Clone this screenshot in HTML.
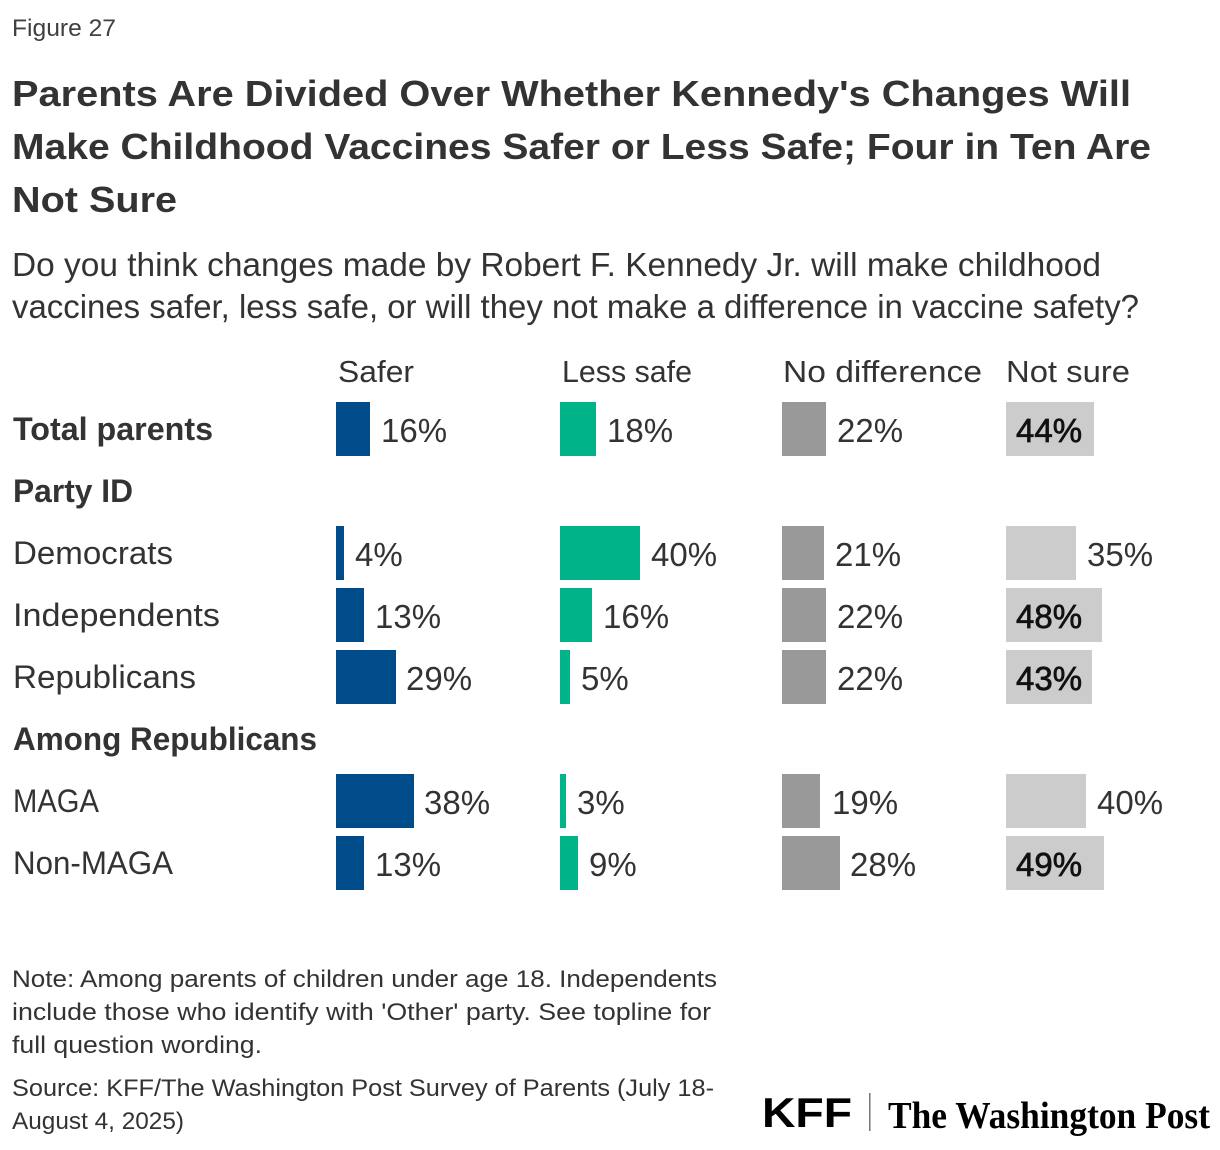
<!DOCTYPE html>
<html>
<head>
<meta charset="utf-8">
<style>
  html, body { margin: 0; padding: 0; background: #ffffff; }
  body { width: 1220px; height: 1150px; overflow: hidden; }
  svg { display: block; }
  text { font-family: "Liberation Sans", "DejaVu Sans", sans-serif; fill: #333333; }
  .val { font-size: 33px; }
  .inval { font-size: 33px; fill: #111111; stroke: #111111; stroke-width: 0.7px; }
</style>
</head>
<body>
<svg width="1220" height="1150" viewBox="0 0 1220 1150" xmlns="http://www.w3.org/2000/svg">
  <rect x="0" y="0" width="1220" height="1150" fill="#ffffff"/>

  <!-- Figure label -->
  <text x="12" y="36" font-size="24" textLength="104" lengthAdjust="spacingAndGlyphs" style="fill:#404040">Figure 27</text>

  <!-- Title -->
  <text x="12" y="106" font-size="36" font-weight="bold" textLength="1119" lengthAdjust="spacingAndGlyphs">Parents Are Divided Over Whether Kennedy's Changes Will</text>
  <text x="12" y="159" font-size="36" font-weight="bold" textLength="1139" lengthAdjust="spacingAndGlyphs">Make Childhood Vaccines Safer or Less Safe; Four in Ten Are</text>
  <text x="12" y="212" font-size="36" font-weight="bold" textLength="165" lengthAdjust="spacingAndGlyphs">Not Sure</text>

  <!-- Subtitle -->
  <text x="12" y="276" font-size="33" textLength="1089" lengthAdjust="spacingAndGlyphs">Do you think changes made by Robert F. Kennedy Jr. will make childhood</text>
  <text x="12" y="318" font-size="33" textLength="1127" lengthAdjust="spacingAndGlyphs">vaccines safer, less safe, or will they not make a difference in vaccine safety?</text>

  <!-- Column headers -->
  <text x="338" y="382" font-size="31" textLength="76" lengthAdjust="spacingAndGlyphs">Safer</text>
  <text x="562" y="382" font-size="31" textLength="130" lengthAdjust="spacingAndGlyphs">Less safe</text>
  <text x="783" y="382" font-size="31" textLength="199" lengthAdjust="spacingAndGlyphs">No difference</text>
  <text x="1006" y="382" font-size="31" textLength="124" lengthAdjust="spacingAndGlyphs">Not sure</text>

  <!-- Row labels -->
  <text x="13" y="440" font-size="32" font-weight="bold" textLength="200" lengthAdjust="spacingAndGlyphs">Total parents</text>
  <text x="13" y="502" font-size="32" font-weight="bold" textLength="120" lengthAdjust="spacingAndGlyphs">Party ID</text>
  <text x="13" y="564" font-size="32" textLength="160" lengthAdjust="spacingAndGlyphs">Democrats</text>
  <text x="13" y="626" font-size="32" textLength="207" lengthAdjust="spacingAndGlyphs">Independents</text>
  <text x="13" y="688" font-size="32" textLength="183" lengthAdjust="spacingAndGlyphs">Republicans</text>
  <text x="13" y="750" font-size="32" font-weight="bold" textLength="304" lengthAdjust="spacingAndGlyphs">Among Republicans</text>
  <text x="13" y="812" font-size="32" textLength="86" lengthAdjust="spacingAndGlyphs">MAGA</text>
  <text x="13" y="874" font-size="32" textLength="160" lengthAdjust="spacingAndGlyphs">Non-MAGA</text>

  <!-- Safer bars -->
  <g fill="#004b8a">
    <rect x="336" y="402" width="34" height="54"/>
    <rect x="336" y="526" width="8" height="54"/>
    <rect x="336" y="588" width="28" height="54"/>
    <rect x="336" y="650" width="60" height="54"/>
    <rect x="336" y="774" width="78" height="54"/>
    <rect x="336" y="836" width="28" height="54"/>
  </g>
  <text class="val" x="381" y="442">16%</text>
  <text class="val" x="355" y="566">4%</text>
  <text class="val" x="375" y="628">13%</text>
  <text class="val" x="406" y="690">29%</text>
  <text class="val" x="424" y="814">38%</text>
  <text class="val" x="375" y="876">13%</text>

  <!-- Less safe bars -->
  <g fill="#00b388">
    <rect x="560" y="402" width="36" height="54"/>
    <rect x="560" y="526" width="80" height="54"/>
    <rect x="560" y="588" width="32" height="54"/>
    <rect x="560" y="650" width="10" height="54"/>
    <rect x="560" y="774" width="6" height="54"/>
    <rect x="560" y="836" width="18" height="54"/>
  </g>
  <text class="val" x="607" y="442">18%</text>
  <text class="val" x="651" y="566">40%</text>
  <text class="val" x="603" y="628">16%</text>
  <text class="val" x="581" y="690">5%</text>
  <text class="val" x="577" y="814">3%</text>
  <text class="val" x="589" y="876">9%</text>

  <!-- No difference bars -->
  <g fill="#999999">
    <rect x="782" y="402" width="44" height="54"/>
    <rect x="782" y="526" width="42" height="54"/>
    <rect x="782" y="588" width="44" height="54"/>
    <rect x="782" y="650" width="44" height="54"/>
    <rect x="782" y="774" width="38" height="54"/>
    <rect x="782" y="836" width="58" height="54"/>
  </g>
  <text class="val" x="837" y="442">22%</text>
  <text class="val" x="835" y="566">21%</text>
  <text class="val" x="837" y="628">22%</text>
  <text class="val" x="837" y="690">22%</text>
  <text class="val" x="832" y="814">19%</text>
  <text class="val" x="850" y="876">28%</text>

  <!-- Not sure bars -->
  <g fill="#cccccc">
    <rect x="1006" y="402" width="88" height="54"/>
    <rect x="1006" y="526" width="70" height="54"/>
    <rect x="1006" y="588" width="96" height="54"/>
    <rect x="1006" y="650" width="86" height="54"/>
    <rect x="1006" y="774" width="80" height="54"/>
    <rect x="1006" y="836" width="98" height="54"/>
  </g>
  <text class="inval" x="1016" y="442">44%</text>
  <text class="val" x="1087" y="566">35%</text>
  <text class="inval" x="1016" y="628">48%</text>
  <text class="inval" x="1016" y="690">43%</text>
  <text class="val" x="1097" y="814">40%</text>
  <text class="inval" x="1016" y="876">49%</text>

  <!-- Notes -->
  <text x="12" y="987" font-size="24" textLength="705" lengthAdjust="spacingAndGlyphs">Note: Among parents of children under age 18. Independents</text>
  <text x="12" y="1020" font-size="24" textLength="699" lengthAdjust="spacingAndGlyphs">include those who identify with 'Other' party. See topline for</text>
  <text x="12" y="1053" font-size="24" textLength="250" lengthAdjust="spacingAndGlyphs">full question wording.</text>
  <text x="12" y="1096" font-size="24" textLength="702" lengthAdjust="spacingAndGlyphs">Source: KFF/The Washington Post Survey of Parents (July 18-</text>
  <text x="12" y="1129" font-size="24" textLength="172" lengthAdjust="spacingAndGlyphs">August 4, 2025)</text>

  <!-- Logos -->
  <text x="762" y="1127" font-size="42" font-weight="bold" textLength="90" lengthAdjust="spacingAndGlyphs" style="fill:#000000">KFF</text>
  <rect x="869" y="1093" width="1.5" height="38" fill="#777777"/>
  <text x="888" y="1128" font-size="38" font-weight="bold" textLength="322" lengthAdjust="spacingAndGlyphs" style="font-family:'Liberation Serif','DejaVu Serif',serif;fill:#000000">The Washington Post</text>
</svg>
</body>
</html>
